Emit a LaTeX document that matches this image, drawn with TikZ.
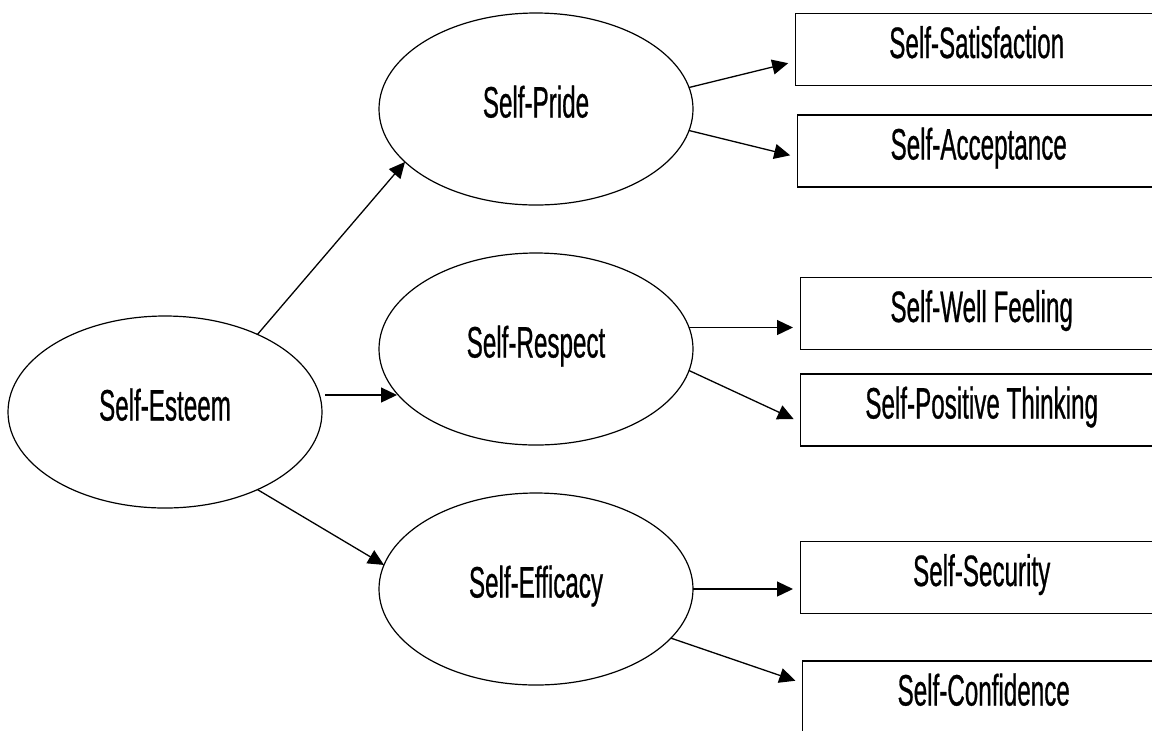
\documentclass[tikz,border=0pt]{standalone}
\usepackage{fontspec}
\setmainfont{Liberation Sans}[FakeStretch=0.55,FakeBold=0.6]
\usetikzlibrary{shapes.geometric,arrows.meta}

\begin{document}
\begin{tikzpicture}[x=0.5pt,y=-0.5pt,
  every node/.style={font=\fontsize{22pt}{26pt}\selectfont, text height=15.5pt, text depth=7pt},
  oval/.style={ellipse, draw, line width=0.6pt, minimum width=157pt, minimum height=96pt, inner sep=0pt, outer sep=0pt},
  facet/.style={rectangle, draw, line width=0.7pt, minimum width=181pt, minimum height=36pt, inner sep=0pt, anchor=west},
  link/.style={-{Triangle[length=8pt,width=7.5pt]}, line width=0.65pt}]

  \useasboundingbox (0,0) rectangle (1152,730);

  % ovals
  \node[oval] (esteem)   at (165,412) {Self-Esteem};
  \node[oval] (pride)    at (536,109) {Self-Pride};
  \node[oval] (respect)  at (536,349) {Self-Respect};
  \node[oval] (efficacy) at (536,589) {Self-Efficacy};

  % boxes
  \node[facet] (satis)    at (795,49.5)  {Self-Satisfaction};
  \node[facet] (accept)   at (797,151)   {Self-Acceptance};
  \node[facet] (well)     at (800,313.5) {Self-Well Feeling};
  \node[facet] (positive) at (800,410)   {Self-Positive Thinking};
  \node[facet] (security) at (800,577.5) {Self-Security};
  \node[facet] (confid)   at (802,697)   {Self-Confidence};

  % arrows
  \draw[link] (esteem.40) -- (pride.202);
  \draw[link] ([xshift=1.5pt,yshift=8.5pt]esteem.east) -- ([xshift=9pt,yshift=-23pt]respect.west);
  \draw[link] (esteem.-40) -- (efficacy.171);

  \draw[link, shorten >=3.5pt] (pride.8.4) -- ([yshift=-6pt]satis.west);
  \draw[link, shorten >=3.5pt] (pride.-8.7) -- ([yshift=-3pt]accept.west);
  \draw[link, shorten >=3.5pt] (respect.8.7) -- (respect.8.7 -| well.west);
  \draw[link, shorten >=3.5pt] (respect.-8.7) -- ([yshift=-6pt]positive.west);
  \draw[link, shorten >=3.5pt] (efficacy.east) -- (efficacy.east -| security.west);
  \draw[link, shorten >=3.5pt] (efficacy.-20) -- ([yshift=7pt]confid.west);

\end{tikzpicture}
\end{document}
